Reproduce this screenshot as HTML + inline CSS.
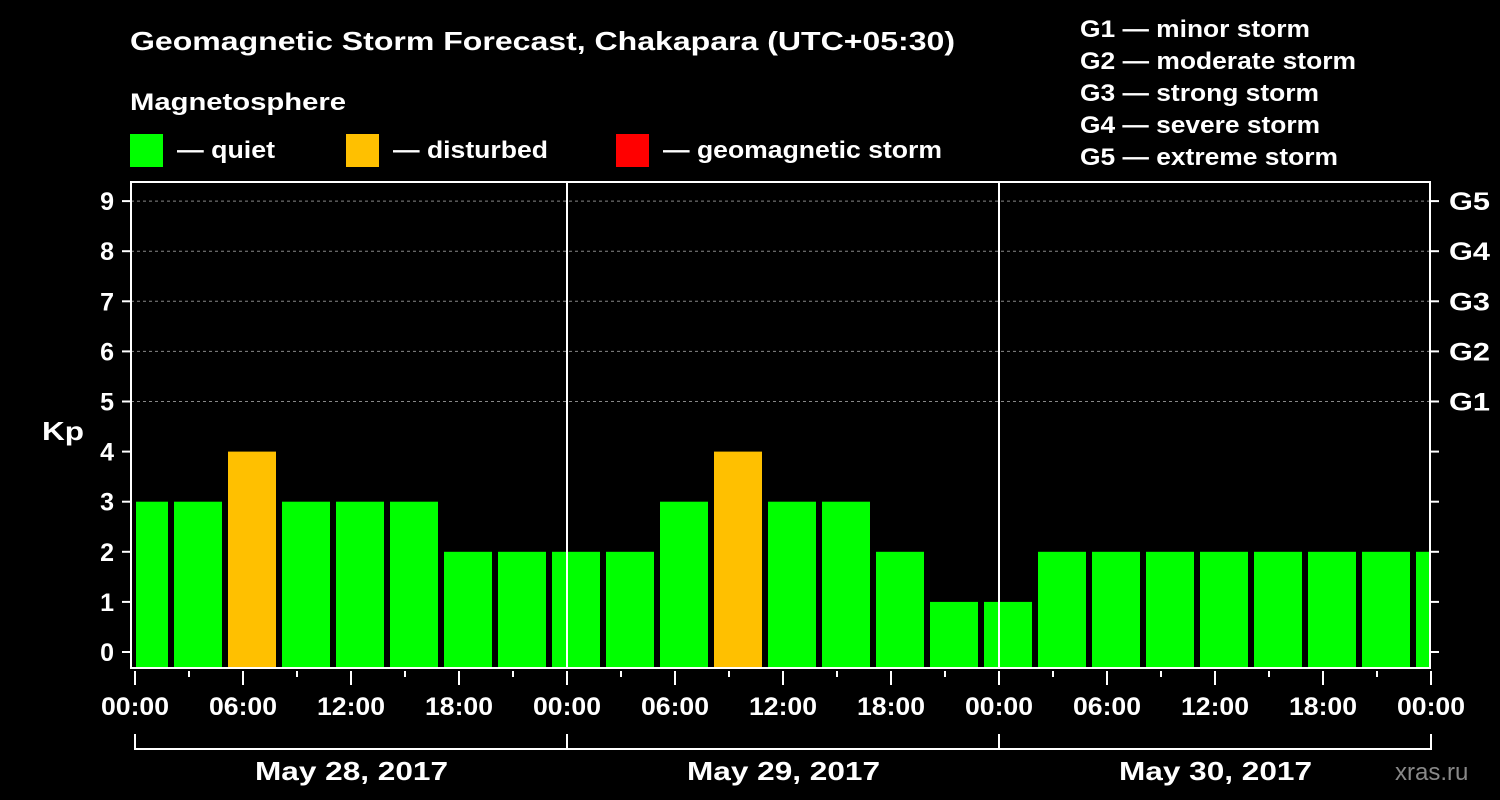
<!DOCTYPE html>
<html><head><meta charset="utf-8"><style>
html,body{margin:0;padding:0;background:#000;}
svg{display:block;font-family:"Liberation Sans",Arial,sans-serif;font-weight:bold;}
</style></head><body>
<svg width="1500" height="800" viewBox="0 0 1500 800">
<rect width="1500" height="800" fill="#000"/>
<text x="130" y="50" fill="#fff" font-size="26" textLength="825" lengthAdjust="spacingAndGlyphs">Geomagnetic Storm Forecast, Chakapara (UTC+05:30)</text>
<text x="130" y="110" fill="#fff" font-size="24" textLength="216" lengthAdjust="spacingAndGlyphs">Magnetosphere</text>
<g><rect x="130" y="134" width="33" height="33" fill="#00ff00"/><text x="177" y="158" fill="#fff" font-size="24" textLength="98" lengthAdjust="spacingAndGlyphs">— quiet</text></g>
<g><rect x="346" y="134" width="33" height="33" fill="#ffc000"/><text x="393" y="158" fill="#fff" font-size="24" textLength="155" lengthAdjust="spacingAndGlyphs">— disturbed</text></g>
<g><rect x="616" y="134" width="33" height="33" fill="#ff0000"/><text x="663" y="158" fill="#fff" font-size="24" textLength="279" lengthAdjust="spacingAndGlyphs">— geomagnetic storm</text></g>
<g fill="#fff" font-size="24">
<text x="1080" y="37" textLength="230" lengthAdjust="spacingAndGlyphs">G1 — minor storm</text>
<text x="1080" y="69" textLength="276" lengthAdjust="spacingAndGlyphs">G2 — moderate storm</text>
<text x="1080" y="101" textLength="239" lengthAdjust="spacingAndGlyphs">G3 — strong storm</text>
<text x="1080" y="133" textLength="240" lengthAdjust="spacingAndGlyphs">G4 — severe storm</text>
<text x="1080" y="165" textLength="258" lengthAdjust="spacingAndGlyphs">G5 — extreme storm</text>
</g>
<text x="42" y="440" fill="#fff" font-size="26" textLength="42" lengthAdjust="spacingAndGlyphs">Kp</text>
<text x="1395" y="780" fill="#888" font-size="24" font-weight="normal">xras.ru</text>
<defs><clipPath id="pc"><rect x="136" y="182" width="1294" height="486"/></clipPath></defs>
<g id="grid"></g>
<g id="bars" clip-path="url(#pc)"></g>
<g id="axes"></g>
</svg>
<script>
const kpValues=[3,3,4,3,3,3,2,2, 2,2,3,4,3,3,2,1, 1,2,2,2,2,2,2,2, 2];
const yTicks=[0,1,2,3,4,5,6,7,8,9];
const gLabels=["G1","G2","G3","G4","G5"];
const xTickLabels=["00:00","06:00","12:00","18:00","00:00","06:00","12:00","18:00","00:00","06:00","12:00","18:00","00:00"];
const dayLabels=["May 28, 2017","May 29, 2017","May 30, 2017"];
const NS="http://www.w3.org/2000/svg";
const X0=135,PXH=18,Y0=652,PXK=50.1,BOTTOM=668,TOPY=182,RIGHTX=1430;
const xs=h=>X0+h*PXH, ys=k=>Y0-k*PXK;
function mk(t,a,p){const e=document.createElementNS(NS,t);for(const k in a)e.setAttribute(k,a[k]);p.appendChild(e);return e;}
const gridG=document.getElementById('grid'),barsG=document.getElementById('bars'),axesG=document.getElementById('axes');
for(let k=5;k<=9;k++){const l=mk('line',{x1:131,x2:RIGHTX,y1:ys(k),y2:ys(k),stroke:'#888','stroke-dasharray':'3,3','stroke-width':1},gridG);

}
kpValues.forEach((v,i)=>{const c=xs(0.5+3*i);const r=mk('rect',{x:c-24,y:ys(v),width:48,height:BOTTOM-ys(v),fill:v>=5?'#ff0000':(v>=4?'#ffc000':'#00ff00')},barsG);

});
const fr=mk('path',{d:`M131 ${TOPY} H${RIGHTX} V${BOTTOM} H131 Z M${xs(24)} ${TOPY} V${BOTTOM} M${xs(48)} ${TOPY} V${BOTTOM}`,stroke:'#fff','stroke-width':2,fill:'none'},axesG);


yTicks.forEach(k=>{mk('line',{x1:122,x2:131,y1:ys(k),y2:ys(k),stroke:'#fff','stroke-width':2},axesG);
mk('line',{x1:RIGHTX,x2:RIGHTX+9,y1:ys(k),y2:ys(k),stroke:'#fff','stroke-width':2},axesG);
const t=mk('text',{x:114,y:ys(k)+9,fill:'#fff','font-size':25,'text-anchor':'end'},axesG);t.textContent=k;

});
gLabels.forEach((g,i)=>{const t=mk('text',{x:1449,y:ys(5+i)+9,fill:'#fff','font-size':25,textLength:41,lengthAdjust:'spacingAndGlyphs'},axesG);t.textContent=g;

});
for(let h=0;h<=72;h+=3){const major=h%6===0;mk('line',{x1:xs(h),x2:xs(h),y1:671,y2:major?685:677,stroke:'#fff','stroke-width':2},axesG);}
xTickLabels.forEach((s,i)=>{const t=mk('text',{x:xs(i*6)-34,y:715,fill:'#fff','font-size':25,textLength:68,lengthAdjust:'spacingAndGlyphs'},axesG);t.textContent=s;

});
mk('path',{d:`M${xs(0)} 734 V749 H${xs(72)} V734 M${xs(24)} 734 V749 M${xs(48)} 734 V749`,stroke:'#fff','stroke-width':2,fill:'none'},axesG);
dayLabels.forEach((s,i)=>{const t=mk('text',{x:xs(12+24*i)-96,y:780,fill:'#fff','font-size':26,textLength:193,lengthAdjust:'spacingAndGlyphs'},axesG);t.textContent=s;

});
</script>
</body></html>
